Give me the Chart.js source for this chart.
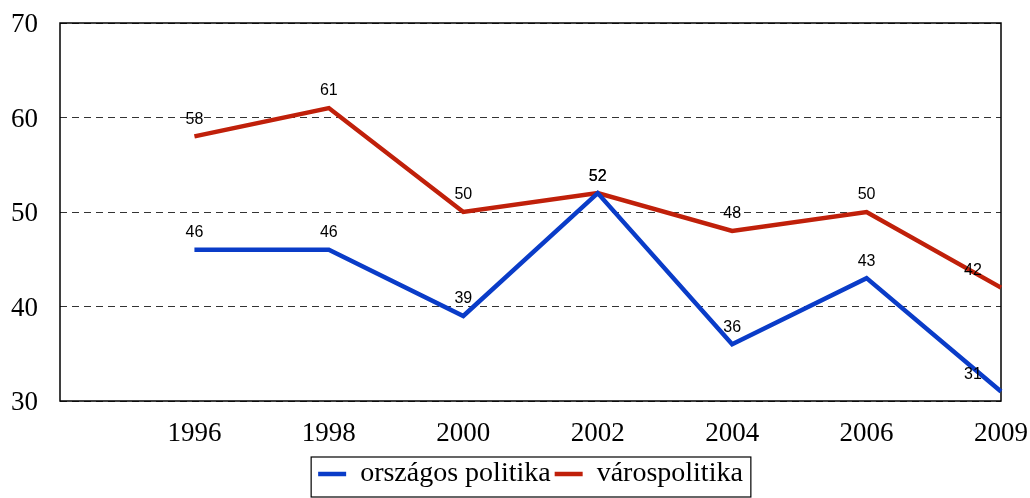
<!DOCTYPE html>
<html>
<head>
<meta charset="utf-8">
<script src="https://cdn.jsdelivr.net/npm/chart.js@4/dist/chart.umd.min.js"></script>
<style>
  html, body { margin: 0; padding: 0; background: #fff; }
  #wrap { width: 1030px; height: 498px; }
</style>
</head>
<body>
<div id="wrap"><canvas id="myChart" width="1030" height="498"></canvas></div>
<script>
// first slot is empty, the axis starts one step before 1996
const years = ['', '1996', '1998', '2000', '2002', '2004', '2006', '2009'];
const orszagos = [null, 46, 46, 39, 52, 36, 43, 31];
const varos = [null, 58, 61, 50, 52, 48, 50, 42];
const yTicks = [30, 40, 50, 60, 70];

const serif = "'Liberation Serif', 'Times New Roman', serif";
const sans = "'Liberation Sans', Arial, sans-serif";

function noPadding(scale) {
    scale.paddingLeft = 0;
    scale.paddingRight = 0;
    scale.paddingTop = 0;
    scale.paddingBottom = 0;
}

// frame round the plot area
const frame = {
    id: 'frame',
    beforeDatasetsDraw(chart) {
        const a = chart.chartArea;
        const ctx = chart.ctx;
        ctx.save();
        ctx.strokeStyle = '#000';
        ctx.lineWidth = 1.5;
        ctx.strokeRect(a.left, a.top, a.right - a.left, a.bottom - a.top);
        ctx.restore();
    }
};

// value above each point
const valueLabels = {
    id: 'valueLabels',
    afterDatasetsDraw(chart) {
        const ctx = chart.ctx;
        ctx.save();
        ctx.font = '16px ' + sans;
        ctx.fillStyle = '#000';
        ctx.textAlign = 'center';
        ctx.textBaseline = 'middle';
        chart.data.datasets.forEach((ds, i) => {
            const meta = chart.getDatasetMeta(i);
            meta.data.forEach((pt, j) => {
                const v = ds.data[j];
                if (v === null) return;
                let x = pt.x;
                if (j === ds.data.length - 1) x -= 28;
                ctx.fillText(String(v), x, pt.y - 17);
            });
        });
        ctx.restore();
    }
};

// box round the legend
const legendBox = {
    id: 'legendBox',
    afterDraw(chart) {
        const boxes = chart.legend.legendHitBoxes;
        if (!boxes || !boxes.length) return;
        const left = Math.min(...boxes.map(b => b.left)) - 7;
        const right = Math.max(...boxes.map(b => b.left + b.width)) + 8;
        const ctx = chart.ctx;
        ctx.save();
        ctx.strokeStyle = '#000';
        ctx.lineWidth = 1.2;
        ctx.strokeRect(left, chart.legend.top + 1, right - left, chart.legend.height - 2);
        ctx.restore();
    }
};

const config = {
    type: 'line',
    data: {
        labels: years,
        datasets: [{
            label: 'országos politika',
            data: orszagos,
            borderColor: '#0a3cc8',
            backgroundColor: '#0a3cc8',
            borderWidth: 4.5,
            pointRadius: 0,
            tension: 0
        }, {
            label: 'várospolitika',
            data: varos,
            borderColor: '#c0200a',
            backgroundColor: '#c0200a',
            borderWidth: 4.5,
            pointRadius: 0,
            tension: 0
        }]
    },
    options: {
        responsive: false,
        animation: false,
        layout: { padding: { top: 23, right: 29, left: 0, bottom: 0 } },
        plugins: {
            tooltip: { enabled: false },
            legend: {
                position: 'bottom',
                fullSize: false,
                labels: {
                    usePointStyle: true,
                    pointStyle: 'line',
                    pointStyleWidth: 28,
                    color: '#000',
                    padding: 4,
                    font: { family: serif, size: 28, lineHeight: 1 }
                }
            }
        },
        scales: {
            x: {
                type: 'category',
                offset: false,
                grid: { display: false, drawTicks: false },
                border: { display: false },
                ticks: {
                    autoSkip: false,
                    maxRotation: 0,
                    color: '#000',
                    padding: 17,
                    font: { family: serif, size: 27 }
                },
                afterFit(scale) { scale.height = 55; noPadding(scale); }
            },
            y: {
                min: 30,
                max: 70,
                afterBuildTicks(scale) { scale.ticks = yTicks.map(v => ({ value: v })); },
                grid: { color: '#333', lineWidth: 1, drawTicks: false },
                border: { display: false, dash: [7, 5] },
                ticks: {
                    color: '#000',
                    padding: 22,
                    labelOffset: 2,
                    font: { family: serif, size: 27 }
                },
                afterFit(scale) { scale.width = 60; noPadding(scale); }
            }
        }
    },
    plugins: [frame, valueLabels, legendBox]
};

const myChart = new Chart(document.getElementById('myChart'), config);
</script>
</body>
</html>
